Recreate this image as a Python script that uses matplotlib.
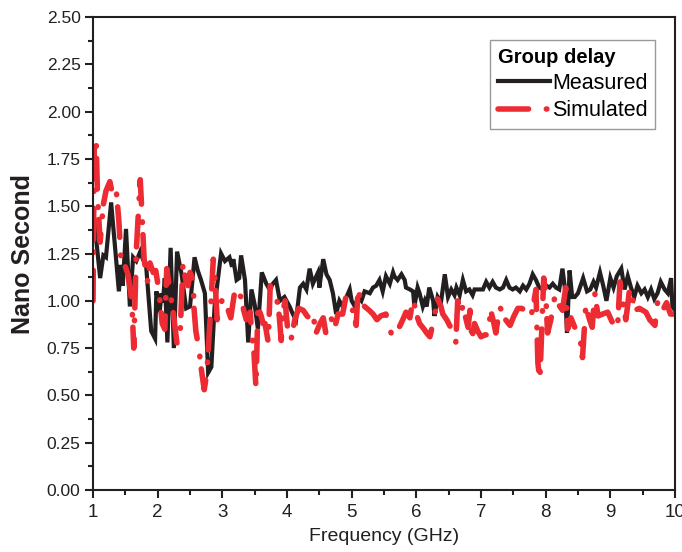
import matplotlib
matplotlib.use("Agg")
import matplotlib.pyplot as plt
from matplotlib.ticker import MultipleLocator, FormatStrFormatter

# [DATA] ----------------------------------------------------------------------
# measured group delay (ns)
freq_meas = [1.00, 1.11, 1.16, 1.20, 1.28, 1.40, 1.43, 1.46, 1.51, 1.57,
             1.62, 1.67, 1.73, 1.77, 1.82, 1.90, 1.96, 1.98, 2.03, 2.06,
             2.08, 2.11, 2.15, 2.20, 2.25, 2.30, 2.37, 2.44, 2.50, 2.57,
             2.62, 2.67, 2.73, 2.78, 2.83, 2.88, 2.93, 2.98, 3.04, 3.11,
             3.15, 3.17, 3.22, 3.26, 3.29, 3.35, 3.40, 3.45, 3.50, 3.55,
             3.61, 3.68, 3.73, 3.78, 3.83, 3.89, 3.96, 4.04, 4.09, 4.14,
             4.20, 4.25, 4.30, 4.35, 4.40, 4.44, 4.48, 4.50, 4.56, 4.61,
             4.66, 4.71, 4.76, 4.81, 4.86, 4.92, 4.97, 5.00, 5.05, 5.10,
             5.15, 5.20, 5.28, 5.33, 5.38, 5.43, 5.48, 5.53, 5.59, 5.64,
             5.66, 5.71, 5.77, 5.82, 5.84, 5.90, 5.95, 5.97, 6.02, 6.05,
             6.10, 6.13, 6.16, 6.20, 6.26, 6.28, 6.33, 6.38, 6.44, 6.49,
             6.54, 6.59, 6.62, 6.67, 6.72, 6.77, 6.82, 6.87, 6.90, 6.98,
             7.03, 7.08, 7.13, 7.18, 7.23, 7.29, 7.34, 7.39, 7.44, 7.49,
             7.54, 7.60, 7.65, 7.70, 7.75, 7.80, 7.85, 7.90, 7.96, 8.01,
             8.06, 8.11, 8.16, 8.21, 8.26, 8.30, 8.33, 8.37, 8.41, 8.45,
             8.50, 8.55, 8.58, 8.64, 8.69, 8.74, 8.78, 8.84, 8.89, 8.94,
             9.00, 9.05, 9.10, 9.17, 9.22, 9.27, 9.32, 9.37, 9.42, 9.48,
             9.53, 9.58, 9.63, 9.68, 9.73, 9.78, 9.84, 9.89, 9.94, 9.96,
             10.00]
delay_meas = [1.49, 1.12, 1.24, 1.23, 1.52, 1.05, 1.19, 1.08, 1.38, 0.97,
              1.23, 1.21, 1.26, 1.22, 1.19, 0.84, 0.80, 1.05, 0.94, 1.04,
              0.99, 1.12, 0.78, 1.28, 0.75, 1.26, 1.14, 0.96, 0.97, 1.23,
              1.16, 1.11, 1.04, 0.62, 0.65, 0.97, 1.11, 1.25, 1.21, 1.23,
              1.18, 1.22, 1.11, 1.12, 1.24, 1.11, 0.78, 1.06, 0.98, 0.85,
              1.15, 1.09, 1.06, 1.09, 1.11, 1.00, 1.02, 0.97, 0.93, 0.90,
              1.07, 1.09, 1.06, 1.17, 1.09, 1.12, 1.15, 1.07, 1.22, 1.14,
              1.11, 1.04, 0.93, 1.00, 0.97, 1.02, 1.06, 1.00, 0.97, 1.02,
              1.00, 1.05, 1.04, 1.07, 1.08, 1.11, 1.05, 1.13, 1.09, 1.15,
              1.13, 1.11, 1.14, 1.11, 1.07, 1.06, 1.05, 0.97, 1.07, 1.04,
              0.97, 1.00, 0.97, 1.07, 1.00, 0.92, 1.02, 0.99, 1.14, 1.02,
              1.06, 1.03, 1.07, 1.03, 1.11, 1.05, 1.06, 1.03, 1.06, 1.06,
              1.06, 1.10, 1.07, 1.10, 1.07, 1.06, 1.07, 1.11, 1.07, 1.06,
              1.07, 1.05, 1.08, 1.06, 1.09, 1.14, 1.11, 1.07, 1.06, 1.08,
              1.07, 1.09, 1.07, 1.06, 1.17, 1.06, 0.83, 1.16, 1.02, 1.02,
              1.04, 1.09, 1.12, 1.05, 1.06, 1.10, 1.07, 1.15, 1.08, 1.00,
              1.12, 1.07, 1.13, 1.17, 1.06, 1.13, 1.07, 1.02, 1.08, 1.04,
              1.06, 1.02, 1.06, 1.01, 1.04, 1.10, 1.06, 1.04, 1.12, 0.97,
              0.95]

# simulated group delay (ns)
freq_sim = [1.00, 1.02, 1.05, 1.07, 1.11, 1.16, 1.20, 1.26, 1.31, 1.36,
            1.40, 1.43, 1.50, 1.54, 1.60, 1.63, 1.67, 1.70, 1.73, 1.76,
            1.79, 1.84, 1.88, 1.93, 1.97, 2.02, 2.07, 2.11, 2.14, 2.19,
            2.24, 2.30, 2.35, 2.39, 2.44, 2.47, 2.50, 2.55, 2.56, 2.59,
            2.64, 2.67, 2.72, 2.76, 2.81, 2.86, 2.89, 2.92, 2.95, 2.99,
            3.04, 3.09, 3.13, 3.20, 3.24, 3.29, 3.33, 3.37, 3.43, 3.46,
            3.49, 3.52, 3.55, 3.60, 3.63, 3.66, 3.71, 3.74, 3.78, 3.83,
            3.88, 3.91, 3.94, 3.97, 4.01, 4.06, 4.12, 4.18, 4.25, 4.31,
            4.37, 4.40, 4.45, 4.51, 4.56, 4.60, 4.65, 4.68, 4.74, 4.79,
            4.86, 4.91, 4.97, 5.02, 5.07, 5.10, 5.14, 5.20, 5.27, 5.33,
            5.39, 5.45, 5.53, 5.58, 5.61, 5.68, 5.75, 5.79, 5.84, 5.90,
            5.95, 5.99, 6.02, 6.05, 6.12, 6.16, 6.21, 6.27, 6.33, 6.38,
            6.41, 6.47, 6.53, 6.58, 6.61, 6.64, 6.67, 6.72, 6.77, 6.80,
            6.83, 6.86, 6.90, 6.95, 7.00, 7.06, 7.11, 7.15, 7.20, 7.23,
            7.29, 7.34, 7.38, 7.45, 7.51, 7.57, 7.63, 7.68, 7.72, 7.77,
            7.82, 7.85, 7.88, 7.91, 7.94, 7.97, 8.00, 8.03, 8.08, 8.14,
            8.20, 8.26, 8.31, 8.34, 8.39, 8.45, 8.50, 8.53, 8.57, 8.62,
            8.68, 8.72, 8.76, 8.81, 8.88, 8.96, 9.04, 9.11, 9.15, 9.19,
            9.24, 9.27, 9.30, 9.35, 9.38, 9.45, 9.55, 9.61, 9.69, 9.73,
            9.81, 9.87, 9.93, 10.00]
delay_sim = [1.00, 1.86, 1.82, 1.55, 1.31, 1.51, 1.58, 1.63, 1.55, 1.58,
             1.42, 1.23, 1.18, 1.14, 1.00, 0.75, 1.27, 1.45, 1.64, 1.44,
             1.22, 1.10, 1.20, 1.15, 1.16, 1.05, 0.88, 0.85, 1.17, 1.05,
             0.94, 0.77, 0.85, 1.19, 1.10, 1.08, 1.15, 1.11, 0.97, 0.84,
             0.74, 0.65, 0.53, 0.62, 0.90, 1.22, 1.09, 0.90, 0.95, 1.00,
             0.99, 0.95, 0.91, 1.07, 1.04, 1.02, 0.95, 0.90, 0.94, 0.81,
             0.72, 0.54, 0.97, 0.92, 0.88, 0.88, 0.78, 1.08, 1.04, 1.04,
             0.92, 0.79, 0.95, 1.00, 0.85, 0.79, 0.90, 0.96, 0.95, 0.92,
             0.90, 0.93, 0.83, 0.88, 0.91, 0.83, 0.88, 0.91, 0.86, 0.93,
             0.93, 1.02, 0.95, 0.95, 0.87, 1.07, 1.00, 0.97, 0.95, 0.93,
             0.90, 0.92, 0.93, 0.86, 0.83, 0.83, 0.87, 0.90, 0.94, 0.91,
             1.01, 0.95, 0.91, 0.88, 0.85, 0.83, 0.81, 0.90, 1.01, 0.97,
             0.93, 0.90, 0.86, 0.80, 0.78, 1.00, 0.93, 0.97, 0.90, 0.86,
             0.95, 0.80, 0.88, 0.84, 0.81, 0.82, 0.82, 0.95, 0.88, 0.83,
             0.97, 0.93, 0.90, 0.87, 0.92, 0.96, 0.96, 0.95, 0.93, 0.91,
             1.00, 1.06, 0.67, 0.58, 0.85, 1.12, 1.04, 0.83, 0.90, 1.02,
             0.98, 0.95, 1.07, 0.85, 0.91, 0.86, 0.84, 0.81, 0.70, 0.97,
             0.90, 0.86, 1.04, 0.92, 0.93, 0.94, 0.88, 0.85, 1.10, 1.00,
             0.90, 0.98, 1.07, 1.00, 0.95, 0.96, 0.94, 0.90, 0.87, 0.99,
             0.95, 0.99, 0.93, 0.93]

# [END DATA]


# [PLOT] ----------------------------------------------------------------------
plt.rcParams['font.family'] = ['Liberation Sans', 'DejaVu Sans']

fig = plt.figure(figsize=(6.82, 5.52), dpi=100)
ax = fig.add_axes([0.1364, 0.1123, 0.8533, 0.8569])

ax.plot(freq_meas, delay_meas, color='#231f20', lw=3.0,
        solid_joinstyle='miter', label='Measured')
ax.plot(freq_sim, delay_sim, color='#ed2b33', lw=4.0,
        dashes=(5.5, 3.2, 0.1, 2.2), dash_capstyle='round',
        label='Simulated')

ax.set_xlim(1, 10)
ax.set_ylim(0, 2.5)
ax.xaxis.set_major_locator(MultipleLocator(1))
ax.xaxis.set_minor_locator(MultipleLocator(0.5))
ax.yaxis.set_major_locator(MultipleLocator(0.25))
ax.yaxis.set_minor_locator(MultipleLocator(0.125))
ax.yaxis.set_major_formatter(FormatStrFormatter('%.2f'))

ax.tick_params(which='both', direction='out', top=False, right=False,
               width=1.5, colors='#231f20')
ax.tick_params(axis='x', labelsize=13.5, pad=4)
ax.tick_params(axis='y', labelsize=12.5, pad=3)
ax.tick_params(which='major', length=6)
ax.tick_params(which='minor', length=3.5)
for s in ax.spines.values():
    s.set_linewidth(1.5)
    s.set_color('#231f20')

ax.set_xlabel('Frequency (GHz)', fontsize=14, labelpad=5, color='#231f20')
ax.set_ylabel('Nano Second', fontsize=18, fontweight='bold', labelpad=8,
              color='#231f20')

leg = ax.legend(loc='upper right', bbox_to_anchor=(0.9604, 0.9275),
                bbox_transform=fig.transFigure, title='Group delay',
                fontsize=15.5, title_fontproperties={'weight': 'bold', 'size': 14.5},
                alignment='left', frameon=True, fancybox=False,
                edgecolor='#808080', handlelength=2.4, handletextpad=0.1,
                borderpad=0.35, labelspacing=0.3, borderaxespad=0)
leg.get_frame().set_linewidth(1.0)

fig.savefig('out.png', dpi=100)
# [END PLOT]
